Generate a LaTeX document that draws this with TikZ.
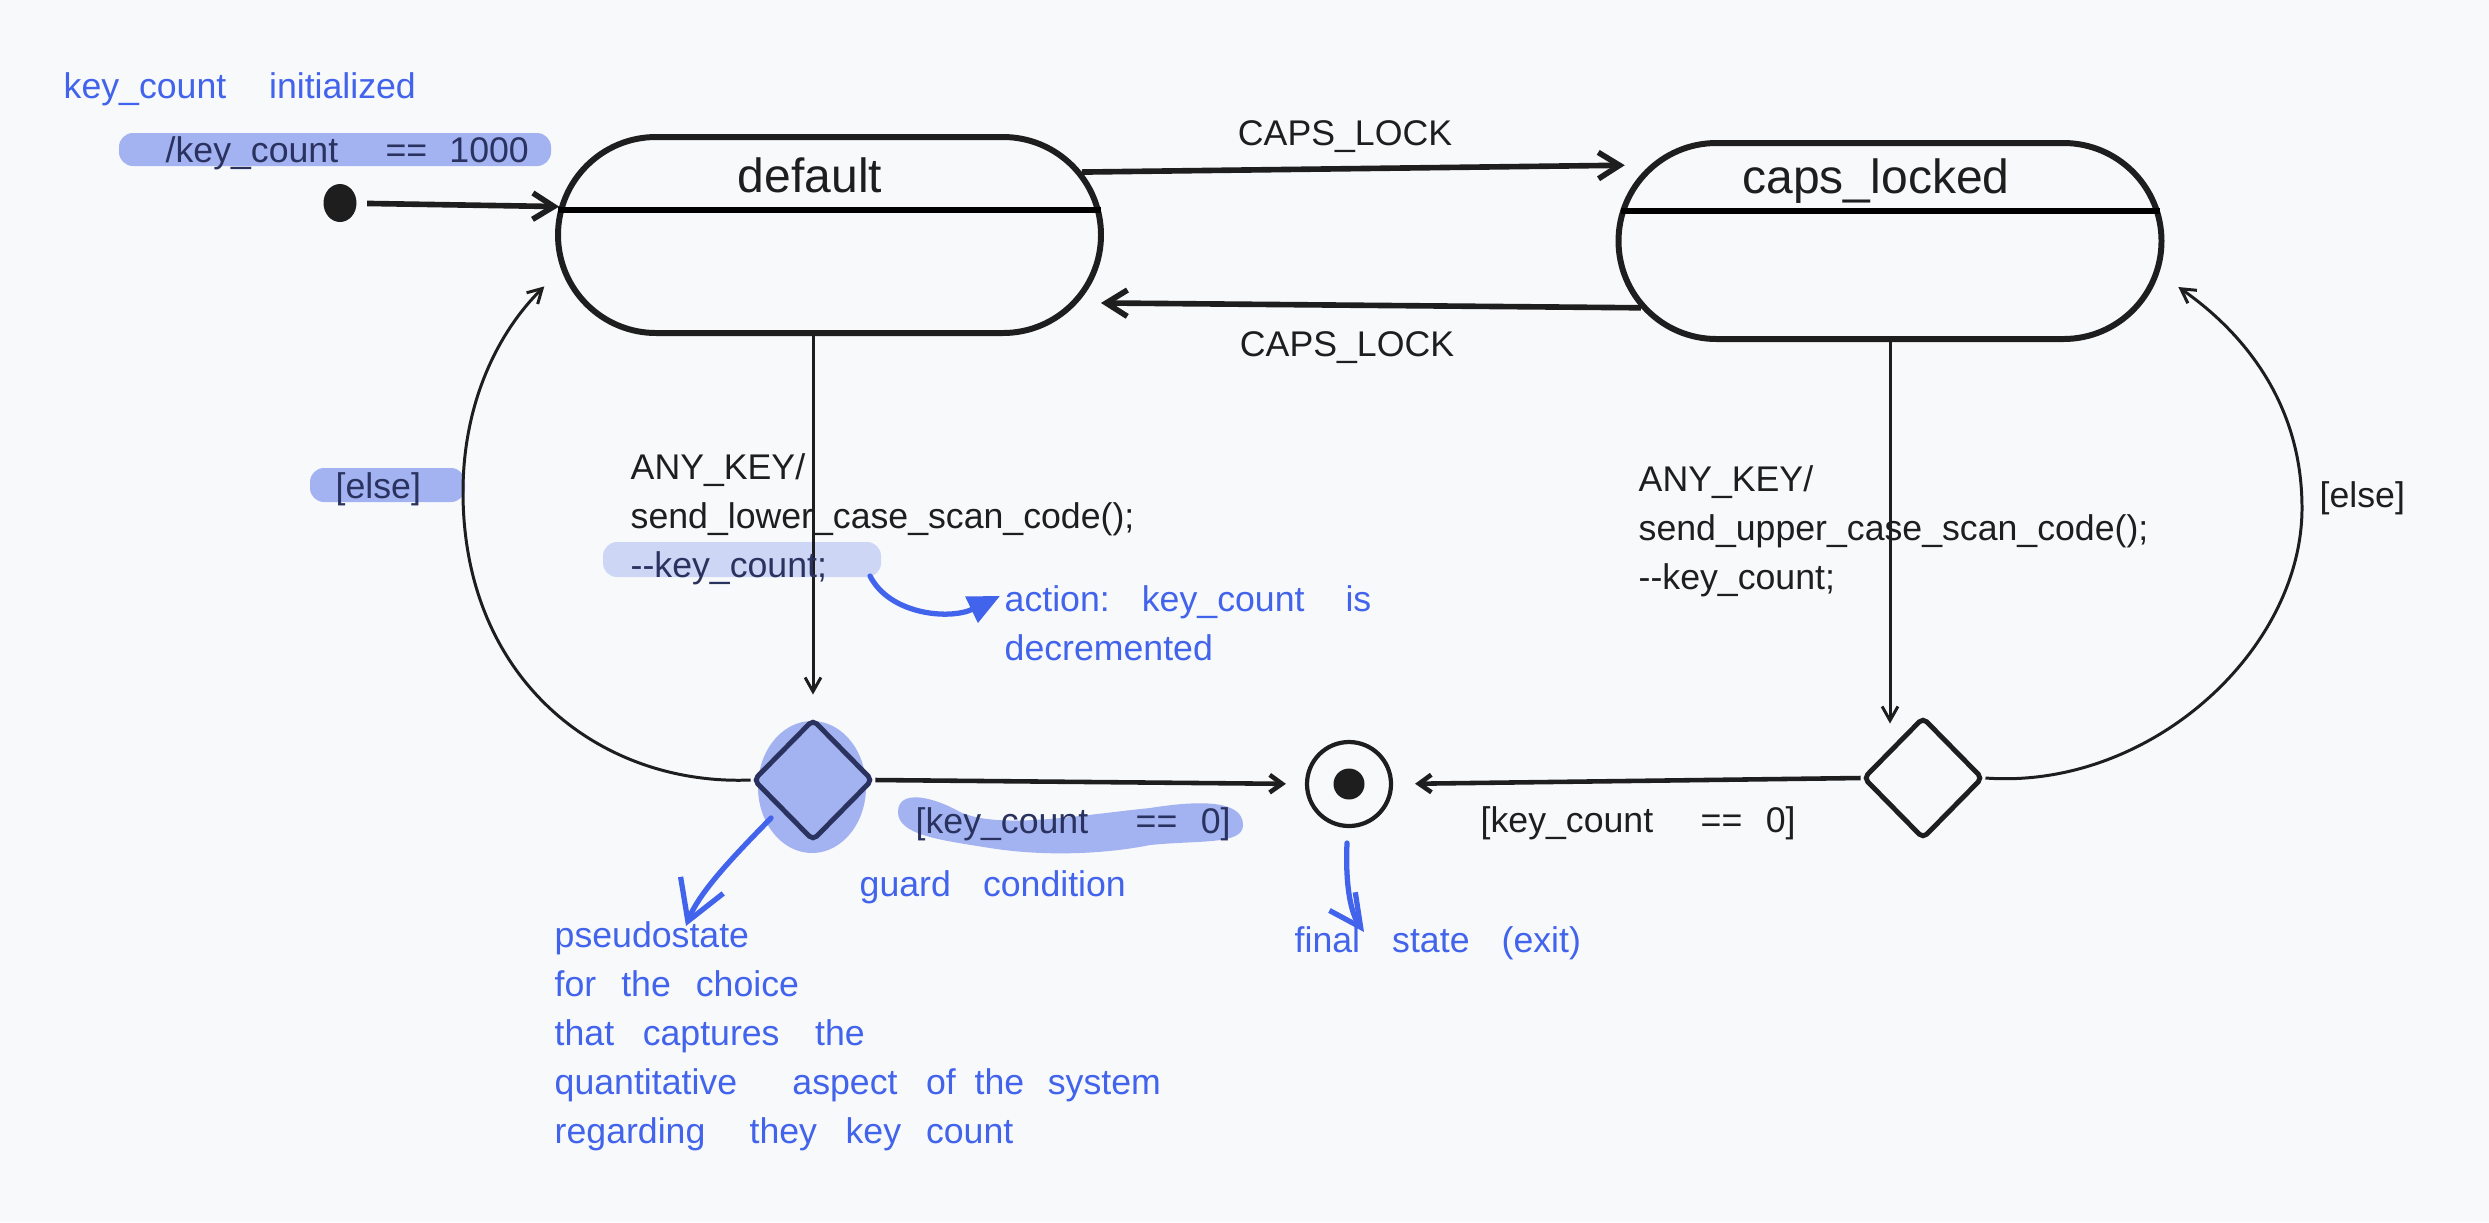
\documentclass[tikz,border=0pt]{standalone}
\usepackage{fontspec}
\setmainfont{Liberation Sans}
\usetikzlibrary{arrows.meta,shapes.geometric,shapes.misc,calc}
\definecolor{ink}{RGB}{30,30,30}
\definecolor{notebl}{RGB}{66,99,235}
\definecolor{hlblue}{RGB}{163,178,240}
\definecolor{hlpale}{RGB}{206,214,246}
\definecolor{hlink}{RGB}{42,50,96}
\definecolor{paper}{RGB}{248,249,251}
\newcommand{\gp}[1]{\hspace{#1em}}

\tikzset{
  statebox/.style={rounded rectangle, draw=ink, line width=1.7pt, minimum width=54.3mm, minimum height=19.6mm, inner sep=0pt},
  statetitle/.style={font=\fontsize{13.66}{16}\selectfont, anchor=base, inner sep=0pt},
  txt/.style={anchor=base west, inner sep=0pt, align=left},
  notetxt/.style={txt, text=notebl},
  choice/.style={diamond, draw=ink, line width=1.4pt, minimum width=12mm, minimum height=12.2mm, inner sep=0pt, rounded corners=1.5pt},
  thickarrow/.style={draw=ink, line width=1.6pt, -{Straight Barb[length=6pt,width=7.5pt]}},
  midarrow/.style={draw=ink, line width=1.3pt, -{Straight Barb[length=3.5pt,width=5pt]}},
  thinarrow/.style={draw=ink, line width=0.85pt, -{Straight Barb[length=4pt,width=4.5pt]}},
  notearrow/.style={draw=notebl, line width=1.5pt, line cap=round},
  hilite/.style={fill=hlblue, rounded corners=1.4mm}
}

\begin{document}
\begin{tikzpicture}[x=0.1mm, y=-0.1mm, font=\fontsize{10.15}{13.9}\selectfont, text=ink]
  \fill[paper] (0,0) rectangle (2489,1222);
  \useasboundingbox (0,0) rectangle (2489,1222);

  % highlighter strokes
  \fill[hilite] (119,133) rectangle (551,166);
  \fill[hilite] (310,468) rectangle (465,502);
  \fill[hilite, fill=hlpale] (603,542) rectangle (881,577);
  \fill[hlblue] (898,812) .. controls (898,790) and (930,795) .. (960,812)
    .. controls (1000,830) and (1080,815) .. (1150,808)
    .. controls (1200,800) and (1243,800) .. (1243,825)
    .. controls (1243,845) and (1200,840) .. (1150,845)
    .. controls (1100,855) and (1040,856) .. (990,848)
    .. controls (940,840) and (898,835) .. (898,812) -- cycle;
  \fill[hlblue] (812,787) ellipse [x radius=5.4mm, y radius=6.6mm];

  % states
  \node (def) [statebox] at (829.5,235) {};
  \node (caps) [statebox] at (1890,241) {};
  \node (deftitle) [statetitle] at (810,192) {default};
  \node (capstitle) [statetitle] at (1876,193) {caps\_locked};
  \draw[line width=1.7pt] ($(def.west)+(3,-25)$) -- ($(def.east)+(-3,-25)$);
  \draw[line width=1.7pt] ($(caps.west)+(5,-30)$) -- ($(caps.east)+(-5,-30)$);

  % pseudostates
  \node (initdot) [ellipse, fill=ink, minimum width=3.3mm, minimum height=3.8mm, inner sep=0pt] at (340,203) {};
  \node (choiceA) [choice, fill=hlblue, draw=hlink] at (813,780) {};
  \node (choiceB) [choice, fill=paper] at (1923,778) {};
  \node (fin) [circle, draw=ink, line width=1.2pt, minimum size=8.4mm, inner sep=0pt] at (1349,784) {};
  \node (findot) [circle, fill=ink, minimum size=3.1mm, inner sep=0pt] at (fin.center) {};

  % transitions
  \draw[thickarrow, shorten <=1mm] (initdot) -- (def.174);
  \draw[thickarrow] (def.14) -- ($(caps.165)+(-16,-9)$);
  \draw[thickarrow] (caps.195) -- ($(def.-14)+(19,5)$);
  \draw[thinarrow] (choiceA.north |- def.south) -- ($(choiceA.north)+(0,-22)$);
  \draw[thinarrow] (caps.south) -- ($(caps.south |- choiceB.north)+(0,9)$);
  \draw[midarrow, shorten >=1.9mm] (choiceA.east) -- (fin.west);
  \draw[midarrow, shorten >=2.2mm] (choiceB.west) -- (fin.east);
  \draw[thinarrow] (choiceA.west) .. controls (600,786) and (463,680) .. (463,492)
    .. controls (463,400) and (500,330) .. ($(def.190)+(-22,5)$);
  \draw[thinarrow] (choiceB.east) .. controls (2150,790) and (2302,650) .. (2302,508)
    .. controls (2302,400) and (2240,330) .. ($(caps.-9)+(23,4)$);

  % labels
  \node (capsup) [txt, anchor=base] at (1345,145) {CAPS\_LOCK};
  \node (capsdown) [txt, anchor=base] at (1347,356) {CAPS\_LOCK};
  \node (initact) [txt, text=hlink] at (165,162) {/key\_count\gp{1.33}==\gp{0.62}1000};
  \node (elseA) [txt, text=hlink] at (335,498) {[else]};
  \node (elseB) [txt] at (2319,507) {[else]};
  \node (anyA) [txt] at (630,577) {ANY\_KEY/\\send\_lower\_case\_scan\_code();\\\textcolor{hlink}{-{}-key\_count;}};
  \node (anyB) [txt] at (1638,589) {ANY\_KEY/\\send\_upper\_case\_scan\_code();\\-{}-key\_count;};
  \node (guardA) [txt, text=hlink] at (915,833) {[key\_count\gp{1.33}==\gp{0.66}0]};
  \node (guardB) [txt] at (1480,832) {[key\_count\gp{1.33}==\gp{0.66}0]};

  % blue notes
  \node (initnote) [notetxt] at (63,98) {key\_count\gp{1.2}initialized};
  \node (actnote) [notetxt] at (1004,660) {action:\gp{0.9}key\_count\gp{1.15}is\\decremented};
  \node (guardnote) [notetxt] at (859,896) {guard\gp{0.9}condition};
  \node (pseudonote) [notetxt] at (554,1143) {pseudostate\\for\gp{0.7}the\gp{0.7}choice\\that\gp{0.8}captures\gp{1}the\\quantitative\gp{1.55}aspect\gp{0.8}of\gp{0.53}the\gp{0.66}system\\regarding\gp{1.24}they\gp{0.8}key\gp{0.7}count};
  \node (finnote) [notetxt] at (1294,952) {final\gp{0.9}state\gp{0.9}(exit)};
  \coordinate (actfrom) at (870,576);
  \coordinate (acttip) at (1000,596);
  \coordinate (pseudofrom) at (771,818);
  \coordinate (pseudotip) at (686,926);
  \coordinate (finfrom) at (1347,843);
  \coordinate (fintip) at (1364,932);
  \draw[notearrow, -{Triangle[length=9pt,width=8pt]}] (actfrom) .. controls (890,615) and (950,620) .. (acttip);
  \draw[notearrow, -{Straight Barb[length=11pt,width=13pt]}] (pseudofrom) .. controls (740,850) and (700,890) .. (pseudotip);
  \draw[notearrow, -{Straight Barb[length=9pt,width=9pt]}] (finfrom) .. controls (1345,890) and (1352,915) .. (fintip);
\end{tikzpicture}
\end{document}
